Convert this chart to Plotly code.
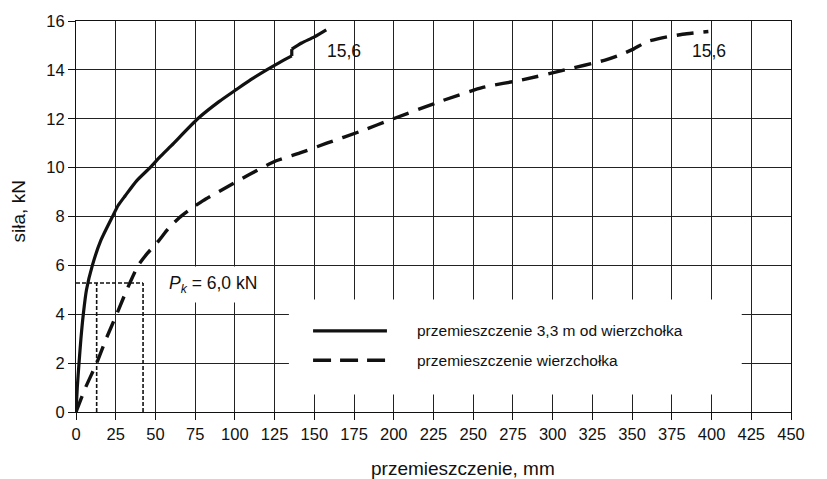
import plotly.graph_objects as go

# displacement [mm] vs force [kN]
disp_33 = [0, 0.8, 1.9, 3.1, 4.6, 6.6, 10.3, 15.5, 23, 26.5, 31, 38, 46.6,
           53, 60, 76.6, 90, 101, 110, 120, 128, 135.8, 135.8, 142, 150, 157.5]
force_33 = [0, 1.0, 2.0, 3.0, 4.0, 5.0, 6.0, 7.0, 8.0, 8.45, 8.85, 9.45, 10.0,
            10.45, 10.9, 12.0, 12.7, 13.2, 13.6, 14.0, 14.3, 14.57, 14.85, 15.1, 15.35, 15.64]

disp_top = [0, 6, 13, 19, 25.6, 32, 39.2, 45, 52, 58, 65, 72, 80, 94.8, 110, 126, 141, 157.8,
            178.7, 199.7, 231, 256, 281.5, 307.8, 333, 342, 350.8, 359.2, 372, 384.4, 398]
force_top = [0, 1.0, 2.0, 3.0, 4.0, 5.0, 6.0, 6.5, 7.0, 7.5, 7.95, 8.3, 8.65, 9.2, 9.75, 10.28, 10.6, 11.0,
             11.48, 12.0, 12.75, 13.28, 13.6, 14.0, 14.4, 14.6, 14.85, 15.15, 15.35, 15.48, 15.57]

# critical load construction lines
pk_force = 5.28
pk_disp = [13, 42.2]

x_ticks = list(range(0, 451, 25))
y_ticks = list(range(0, 17, 2))

FONT = "Liberation Sans, Arial, sans-serif"
BLACK = "#111111"

fig = go.Figure()

# the 3.3 m curve has a sudden step near 136 mm, so it is drawn in two smoothed pieces
step = disp_33.index(135.8) + 1
fig.add_trace(go.Scatter(x=disp_33[:step], y=force_33[:step], mode="lines",
                         line=dict(color=BLACK, width=3.2, shape="spline", smoothing=0.6),
                         hoverinfo="skip"))
fig.add_trace(go.Scatter(x=disp_33[step - 1:step + 1], y=force_33[step - 1:step + 1], mode="lines",
                         line=dict(color=BLACK, width=3.2), hoverinfo="skip"))
fig.add_trace(go.Scatter(x=disp_33[step:], y=force_33[step:], mode="lines",
                         line=dict(color=BLACK, width=3.2, shape="spline", smoothing=0.6),
                         hoverinfo="skip"))
fig.add_trace(go.Scatter(x=disp_top, y=force_top, mode="lines",
                         line=dict(color=BLACK, width=3.4, dash="17px,10px",
                                   shape="spline", smoothing=0.6),
                         hoverinfo="skip"))

# P_k helper lines
fig.add_trace(go.Scatter(x=[0, pk_disp[1]], y=[pk_force, pk_force], mode="lines",
                         line=dict(color=BLACK, width=1.6, dash="4px,2px"), hoverinfo="skip"))
for d in pk_disp:
    fig.add_trace(go.Scatter(x=[d, d], y=[0, pk_force], mode="lines",
                             line=dict(color=BLACK, width=1.6, dash="4px,2px"), hoverinfo="skip"))

shapes = [
    # legend background
    dict(type="rect", xref="x", yref="y", x0=134, x1=419, y0=0.72, y1=4.6,
         fillcolor="white", line=dict(width=0), layer="between"),
    dict(type="line", xref="x", yref="y", x0=149.2, x1=195.7, y0=3.32, y1=3.32,
         line=dict(color=BLACK, width=3.2)),
    dict(type="line", xref="x", yref="y", x0=149.2, x1=195.7, y0=2.12, y1=2.12,
         line=dict(color=BLACK, width=3.4, dash="18px,9px")),
]

annotations = [
    dict(x=213.4, y=3.32, xref="x", yref="y", text="przemieszczenie 3,3 m od wierzchołka",
         showarrow=False, xanchor="left", yanchor="middle", font=dict(size=15.5, color=BLACK, family=FONT)),
    dict(x=213.4, y=2.12, xref="x", yref="y", text="przemieszczenie wierzchołka",
         showarrow=False, xanchor="left", yanchor="middle", font=dict(size=15.5, color=BLACK, family=FONT)),
    dict(x=86, y=5.2, xref="x", yref="y", text="<i>P</i><sub><i>k</i></sub> = 6,0 kN",
         showarrow=False, xanchor="center", yanchor="middle", bgcolor="white",
         borderpad=6, font=dict(size=17.5, color=BLACK, family=FONT)),
    dict(x=156.5, y=14.78, xref="x", yref="y", text="15,6", showarrow=False,
         xanchor="left", yanchor="middle", font=dict(size=17.5, color=BLACK, family=FONT)),
    dict(x=386.5, y=14.78, xref="x", yref="y", text="15,6", showarrow=False,
         xanchor="left", yanchor="middle", font=dict(size=17.5, color=BLACK, family=FONT)),
    dict(x=0, y=0.513, xref="paper", yref="paper", xshift=-58, text="siła, kN", textangle=-90,
         showarrow=False, xanchor="center", yanchor="middle", font=dict(size=19, color=BLACK, family=FONT)),
    dict(x=0.5406, y=0, xref="paper", yref="paper", yshift=-56, text="przemieszczenie, mm",
         showarrow=False, xanchor="center", yanchor="middle", font=dict(size=19, color=BLACK, family=FONT)),
]

axis_common = dict(showgrid=True, gridcolor="#222222", gridwidth=1, zeroline=False,
                   showline=True, linecolor=BLACK, linewidth=1, mirror=True,
                   ticks="outside", ticklen=7, tickcolor=BLACK, tickwidth=1,
                   tickfont=dict(size=16.5, color=BLACK, family=FONT))

fig.update_layout(
    width=827, height=479,
    margin=dict(l=76, r=36, t=12, b=67),
    paper_bgcolor="white", plot_bgcolor="white",
    showlegend=False,
    shapes=shapes, annotations=annotations,
    xaxis=dict(range=[0, 450], tickvals=x_ticks, **axis_common),
    yaxis=dict(range=[0, 16], tickvals=y_ticks, **axis_common),
)

fig.write_html("out.html")
